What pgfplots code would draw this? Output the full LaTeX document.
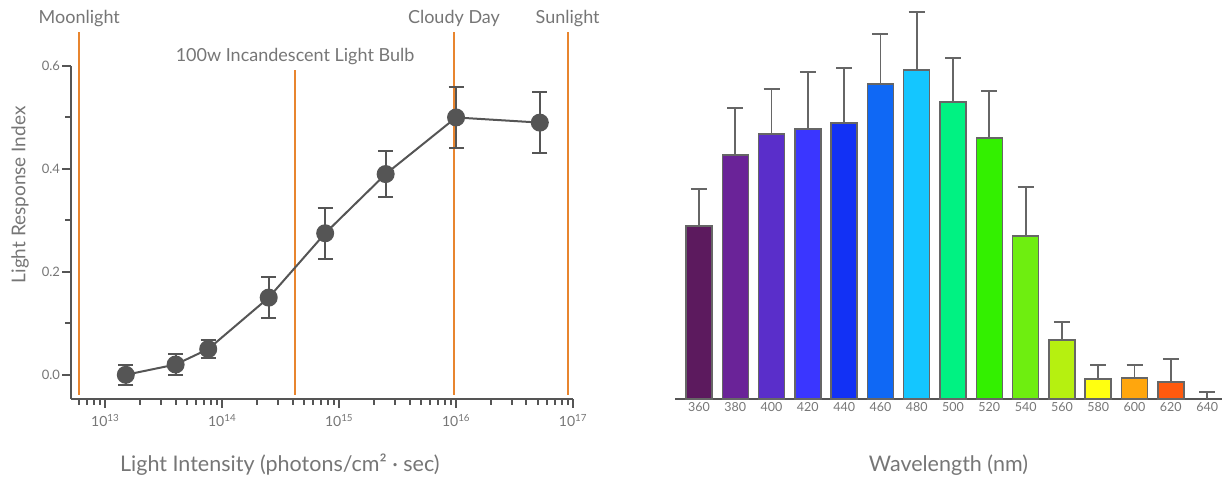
\documentclass[border=0pt]{standalone}
\usepackage{pgfplots}
\pgfplotsset{compat=1.18}
\usepackage{fontspec}
\setmainfont{Lato}
\definecolor{axgray}{HTML}{555555}
\definecolor{bargray}{HTML}{666666}
\definecolor{txtgray}{HTML}{767676}
\definecolor{orng}{HTML}{E8852F}
\definecolor{c360}{HTML}{5C1A5E}
\definecolor{c380}{HTML}{6A2398}
\definecolor{c400}{HTML}{5A2ECA}
\definecolor{c420}{HTML}{3A36FF}
\definecolor{c440}{HTML}{1231F5}
\definecolor{c460}{HTML}{0F68F5}
\definecolor{c480}{HTML}{14C6FF}
\definecolor{c500}{HTML}{00F282}
\definecolor{c520}{HTML}{33F000}
\definecolor{c540}{HTML}{6EEE10}
\definecolor{c560}{HTML}{B6F010}
\definecolor{c580}{HTML}{FFFF10}
\definecolor{c600}{HTML}{FFA60D}
\definecolor{c620}{HTML}{FF5A0E}
\newcommand{\tl}{\fontsize{13}{15}\selectfont}
\newcommand{\xl}[1]{\fontsize{14}{16}\selectfont 10\textsuperscript{#1}}
\newcommand{\bl}{\fontsize{12.5}{15}\selectfont}
\pgfplotsset{
  barbase/.style={ybar, bar width=26pt, bar shift=0pt, draw=bargray, line width=1.5pt},
  berr/.style={error bars/.cd, y dir=plus, y explicit,
    error bar style={line width=1.8pt, color=bargray},
    error mark options={rotate=90, line width=1.8pt, mark size=8pt, color=bargray}},
  mybar/.style={barbase, berr},
  orl/.style={color=orng, line width=2pt, forget plot}
}
\begin{document}
\begin{tikzpicture}
\path[use as bounding box] (0,0) rectangle (1227pt,481pt);
% ---------------- left chart
\begin{axis}[
  at={(71pt,82pt)}, anchor=south west, scale only axis,
  width=502pt, height=333pt,
  xmode=log, xmin=5.1e12, xmax=1e17, ymin=-0.047, ymax=0.6,
  axis x line*=bottom, axis y line*=left,
  axis line style={draw=axgray, line width=2pt, -},
  xtick={1e13,1e14,1e15,1e16,1e17},
  xticklabels={\xl{13},\xl{14},\xl{15},\xl{16},\xl{17}},
  minor xtick={6e12,7e12,8e12,9e12,2e13,3e13,4e13,5e13,6e13,7e13,8e13,9e13,2e14,3e14,4e14,5e14,6e14,7e14,8e14,9e14,2e15,3e15,4e15,5e15,6e15,7e15,8e15,9e15,2e16,3e16,4e16,5e16,6e16,7e16,8e16,9e16},
  ytick={0,0.2,0.4,0.6}, minor ytick={0.1,0.3,0.5},
  yticklabels={\tl 0.0,\tl 0.2,\tl 0.4,\tl 0.6},
  tick align=outside, major tick length=9pt, minor tick length=6pt,
  every tick/.style={draw=axgray, line width=2pt},
  xticklabel style={text=txtgray, yshift=-3pt},
  yticklabel style={text=txtgray, xshift=1.5pt},
  clip=false,
  xlabel={Light Intensity (photons/cm² · sec)},
  xlabel style={at={(axis description cs:0.416,0)}, anchor=center, yshift=-66pt, font=\fontsize{21.5}{24}\selectfont, text=txtgray},
  ylabel={Light Response Index},
  ylabel style={at={(axis description cs:-0.1016,0.613)}, anchor=center, font=\fontsize{19}{22}\selectfont, text=txtgray},
]
\addplot[orl] coordinates {(6e12,-0.039) (6e12,0.666)};
\addplot[orl] coordinates {(4.2e14,-0.039) (4.2e14,0.592)};
\addplot[orl] coordinates {(9.6e15,-0.039) (9.6e15,0.666)};
\addplot[orl] coordinates {(9e16,-0.039) (9e16,0.666)};
\node[font=\fontsize{18}{21}\selectfont, text=txtgray] at (axis cs:6e12,0.693) {Moonlight};
\node[font=\fontsize{18}{21}\selectfont, text=txtgray] at (axis cs:9.6e15,0.693) {Cloudy Day};
\node[font=\fontsize{18}{21}\selectfont, text=txtgray] at (axis cs:9e16,0.693) {Sunlight};
\node[font=\fontsize{18}{21}\selectfont, text=txtgray] at (axis cs:4.2e14,0.619) {100w Incandescent Light Bulb};
\addplot[color=axgray, line width=2pt, mark=*, mark size=8pt,
  mark options={fill=axgray, draw=axgray},
  error bars/.cd, y dir=both, y explicit,
  error bar style={line width=2pt, color=axgray},
  error mark options={rotate=90, line width=2pt, mark size=7.5pt, color=axgray}]
coordinates {
(1.5e13,0.0) +- (0,0.02)
(4e13,0.02) +- (0,0.02)
(7.6e13,0.05) +- (0,0.017)
(2.5e14,0.15) +- (0,0.04)
(7.6e14,0.275) +- (0,0.05)
(2.5e15,0.39) +- (0,0.045)
(1e16,0.50) +- (0,0.06)
(5.2e16,0.49) +- (0,0.06)
};
\end{axis}
% ---------------- right chart
\begin{axis}[
  at={(675pt,82pt)}, anchor=south west, scale only axis,
  width=547pt, height=389pt,
  xmin=-0.66, xmax=14.41, ymin=0, ymax=0.389,
  axis x line*=bottom, axis y line=none,
  axis line style={draw=axgray, line width=2pt, -},
  xtick={0,...,14},
  xticklabels={\bl 360,\bl 380,\bl 400,\bl 420,\bl 440,\bl 460,\bl 480,\bl 500,\bl 520,\bl 540,\bl 560,\bl 580,\bl 600,\bl 620,\bl 640},
  major tick length=0pt, xtick style={draw=none},
  xticklabel style={text=txtgray},
  clip=false,
  xlabel={Wavelength (nm)},
  xlabel style={at={(axis description cs:0.5,0)}, anchor=center, yshift=-66pt, font=\fontsize{21.5}{24}\selectfont, text=txtgray},
]
\addplot[fill=c360, mybar] coordinates {(0,0.173) +- (0,0.037)};
\addplot[fill=c380, mybar] coordinates {(1,0.244) +- (0,0.047)};
\addplot[fill=c400, mybar] coordinates {(2,0.265) +- (0,0.045)};
\addplot[fill=c420, mybar] coordinates {(3,0.270) +- (0,0.057)};
\addplot[fill=c440, mybar] coordinates {(4,0.276) +- (0,0.055)};
\addplot[fill=c460, mybar] coordinates {(5,0.315) +- (0,0.050)};
\addplot[fill=c480, mybar] coordinates {(6,0.329) +- (0,0.058)};
\addplot[fill=c500, mybar] coordinates {(7,0.297) +- (0,0.044)};
\addplot[fill=c520, mybar] coordinates {(8,0.261) +- (0,0.047)};
\addplot[fill=c540, mybar] coordinates {(9,0.163) +- (0,0.049)};
\addplot[fill=c560, mybar] coordinates {(10,0.059) +- (0,0.018)};
\addplot[fill=c580, mybar] coordinates {(11,0.020) +- (0,0.014)};
\addplot[fill=c600, mybar] coordinates {(12,0.021) +- (0,0.013)};
\addplot[fill=c620, mybar] coordinates {(13,0.017) +- (0,0.023)};
\addplot[barbase, draw=none, fill=none, berr] coordinates {(14,0.0) +- (0,0.007)};
\end{axis}
\end{tikzpicture}
\end{document}
